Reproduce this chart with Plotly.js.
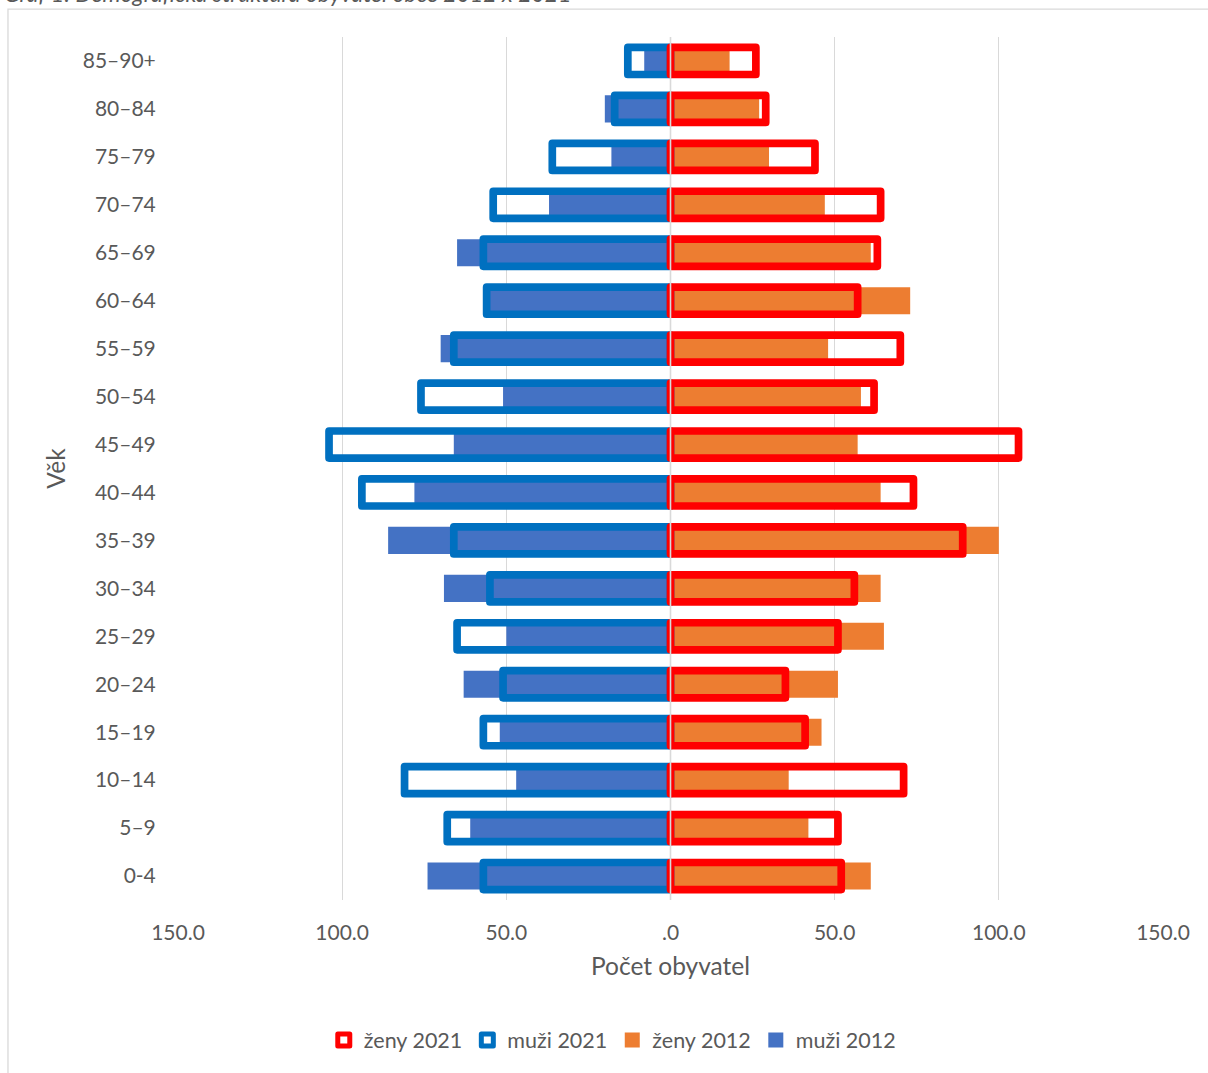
<!DOCTYPE html>
<html><head><meta charset="utf-8">
<script src="https://cdn.plot.ly/plotly-3.0.1.min.js"></script>
<style>
html,body{margin:0;padding:0;background:#fff;}
#chart{width:1208px;height:1073px;}
.trace.bars path{stroke-linejoin:round;}
.legendpoints path{stroke-linejoin:round;}
</style></head><body>
<div id="chart"></div>
<script>
const ageGroups = ['0-4','5–9','10–14','15–19','20–24','25–29','30–34','35–39','40–44','45–49','50–54','55–59','60–64','65–69','70–74','75–79','80–84','85–90+'];
const muzi2012 = [74,61,47,52,63,50,69,86,78,66,51,70,55,65,37,18,20,8];
const zeny2012 = [61,42,36,46,51,65,64,100,64,57,58,48,73,61,47,30,27,18];
const muzi2021 = [57,68,81,57,51,65,55,66,94,104,76,66,56,57,54,36,17,13];
const zeny2021 = [52,51,71,41,35,51,56,89,74,106,62,70,57,63,64,44,29,26];
const xTickVals = [-150,-100,-50,0,50,100,150];
const xTickText = ['150.0','100.0','50.0','.0','50.0','100.0','150.0'];
const seriesNames = ['ženy 2021','muži 2021','ženy 2012','muži 2012'];

const C_M12 = '#4472C4', C_Z12 = '#ED7D31', C_M21 = '#0070C0', C_Z21 = '#FF0000';
const FONT = 'Lato, "Open Sans", sans-serif';
const GREY = '#595959';
const BW = 0.565;

const neg = a => a.map(v => -v);

const traces = [
  {type:'bar', orientation:'h', name:seriesNames[3], y:ageGroups, x:neg(muzi2012), width:BW,
   marker:{color:C_M12, line:{width:0}}, showlegend:false, hoverinfo:'skip'},
  {type:'bar', orientation:'h', name:seriesNames[2], y:ageGroups, x:zeny2012, width:BW,
   marker:{color:C_Z12, line:{width:0}}, showlegend:false, hoverinfo:'skip'},
  {type:'bar', orientation:'h', name:seriesNames[1], y:ageGroups, x:neg(muzi2021), width:BW,
   marker:{color:'rgba(0,0,0,0)', line:{width:7.7, color:C_M21}}, showlegend:false, hoverinfo:'skip'},
  {type:'bar', orientation:'h', name:seriesNames[0], y:ageGroups, x:zeny2021, width:BW,
   marker:{color:'rgba(0,0,0,0)', line:{width:7.7, color:C_Z21}}, showlegend:false, hoverinfo:'skip'},
  // legend entries
  {type:'scatter', mode:'markers', name:seriesNames[0], x:[null], y:[null], legendrank:1,
   marker:{symbol:'square', size:12, color:'#FFFFFF', line:{width:5, color:C_Z21}}},
  {type:'scatter', mode:'markers', name:seriesNames[1], x:[null], y:[null], legendrank:2,
   marker:{symbol:'square', size:12, color:'#FFFFFF', line:{width:5, color:C_M21}}},
  {type:'scatter', mode:'markers', name:seriesNames[2], x:[null], y:[null], legendrank:3,
   marker:{symbol:'square', size:15, color:C_Z12, line:{width:0}}},
  {type:'scatter', mode:'markers', name:seriesNames[3], x:[null], y:[null], legendrank:4,
   marker:{symbol:'square', size:15, color:C_M12, line:{width:0}}}
];

const layout = {
  width:1208, height:1073,
  margin:{l:178, r:45, t:37, b:173, pad:0},
  paper_bgcolor:'#FFFFFF', plot_bgcolor:'#FFFFFF',
  font:{family:FONT, color:GREY, size:21},
  barmode:'overlay',
  showlegend:true,
  legend:{orientation:'h', x:0.148, xanchor:'left', y:-0.1622, yanchor:'middle',
          font:{family:FONT, size:21.5, color:GREY}, itemwidth:30, traceorder:'normal'},
  xaxis:{range:[-150,150], tickvals:xTickVals, ticktext:xTickText,
         showgrid:true, gridcolor:'#D9D9D9', gridwidth:1.3, zeroline:false, showline:false,
         ticks:'outside', ticklen:14, tickcolor:'rgba(0,0,0,0)',
         tickfont:{family:FONT, size:21, color:GREY},
         title:{text:'Počet obyvatel', font:{family:FONT, size:24.5, color:GREY}, standoff:14},
         fixedrange:true},
  yaxis:{type:'category', categoryorder:'array', categoryarray:ageGroups, range:[-0.5,17.5],
         showgrid:false, zeroline:false, showline:false,
         ticks:'outside', ticklen:17, tickcolor:'rgba(0,0,0,0)',
         tickfont:{family:FONT, size:21, color:GREY},
         title:{text:'Věk', font:{family:FONT, size:24.5, color:GREY}, standoff:10},
         fixedrange:true},
  shapes:[
    {type:'line', xref:'x', yref:'paper', x0:0, x1:0, y0:0, y1:1, layer:'above',
     line:{color:'#D9D9D9', width:1.6}},
    {type:'rect', xref:'paper', yref:'paper', x0:-0.1726, x1:1.08, y0:-0.25, y1:1.0324,
     layer:'below', line:{color:'#D9D9D9', width:1.3}, fillcolor:'rgba(0,0,0,0)'}
  ],
  annotations:[
    {xref:'paper', yref:'paper', x:-0.1787, xanchor:'left', y:1.0326, yanchor:'bottom',
     text:'<i>Graf 1: Demografická struktura obyvatel obce 2012 x 2021</i>', showarrow:false,
     font:{family:FONT, size:23, color:GREY}}
  ]
};

Plotly.newPlot('chart', traces, layout, {displayModeBar:false, staticPlot:true});
</script>
</body></html>
